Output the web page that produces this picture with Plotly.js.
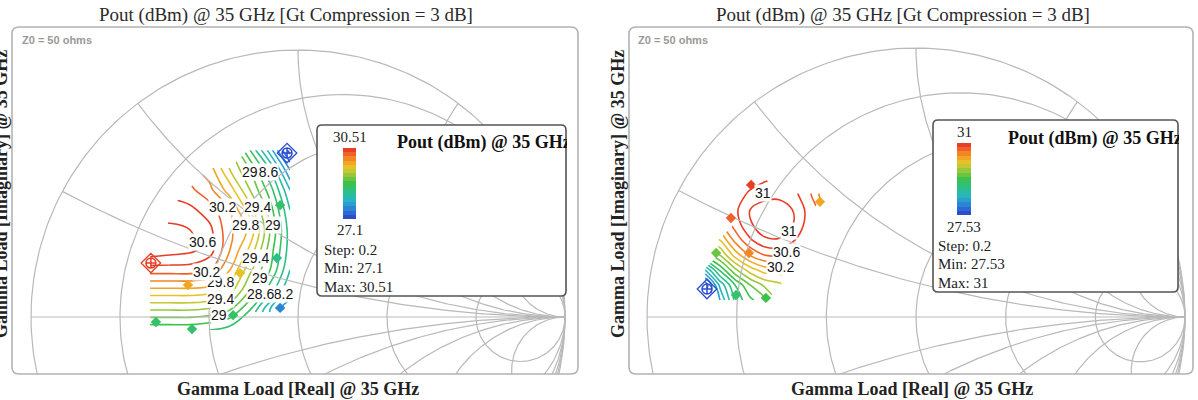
<!DOCTYPE html>
<html>
<head>
<meta charset="utf-8">
<script src="https://cdn.plot.ly/plotly-3.0.1.min.js"></script>
<style>html,body{margin:0;padding:0;background:#fff}#chart{width:1198px;height:400px}</style>
</head>
<body>
<div id="chart"></div>
<script>
// ================= DATA =================
// Smith chart grid values
const smithR = [0.2, 0.5, 1, 2, 5];
const smithX = [0.25, 0.5, 1, 2, 5];

// ---- Left chart: load-pull Pout (dBm) on Gamma grid ----
const leftGammaRe = [-0.554, -0.479, -0.404, -0.330, -0.255, -0.180, -0.105, -0.030];
const leftGammaIm = [0.625, 0.551, 0.476, 0.401, 0.326, 0.251, 0.176, 0.101, 0.026, -0.049];
const leftPout = [
  [null, null, null, null, null, 28.6, 27.9, 27.1],
  [null, null, null, 29.9, 29.4, 29.0, 28.4, 27.6],
  [null, null, 30.25, 30.05, 29.7, 29.2, 28.7, 28.0],
  [null, 30.5, 30.45, 30.3, 30.0, 29.5, 28.9, 28.2],
  [null, 30.65, 30.6, 30.45, 30.05, 29.75, 29.0, 28.3],
  [30.75, 30.7, 30.65, 30.5, 30.0, 29.55, 28.9, 28.3],
  [30.3, 30.3, 30.3, 30.2, 29.8, 29.25, 28.8, 28.2],
  [29.75, 29.75, 29.75, 29.7, 29.5, 29.0, 28.5, 28.0],
  [29.2, 29.2, 29.2, 29.15, 29.0, 28.6, 28.0, 27.6],
  [28.65, 28.65, 28.65, 28.6, 28.5, null, null, null]
];
const leftMin = 27.1, leftMax = 30.51, leftStep = 0.2;
const leftLevelStart = 27.2, leftLevelEnd = 30.6;
// measured points (diamonds)
const leftPtRe  = [-0.412, -0.217, -0.067, -0.079, -0.243, -0.532, -0.397, -0.067];
const leftPtIm  = [0.120, 0.165, 0.419, 0.221, 0.007, -0.019, -0.045, 0.034];
const leftPtVal = [29.9, 29.6, 28.6, 28.5, 28.6, 28.6, 28.7, 27.7];
// max / min markers
const leftExtRe  = [-0.551, -0.041];
const leftExtIm  = [0.202, 0.614];
const leftExtVal = [30.51, 27.1];
// contour labels
const leftLabelVal = [28.6, 29, 30.2, 29.4, 29.8, 29, 30.6, 29.4, 29.8, 30.2, 29, 28.2, 28.6, 29, 29.4];
const leftLabelRe  = [-0.124, -0.180, -0.281, -0.150, -0.195, -0.094, -0.356, -0.161, -0.292, -0.341, -0.142, -0.071, -0.142, -0.296, -0.292];
const leftLabelIm  = [0.543, 0.543, 0.412, 0.412, 0.345, 0.345, 0.281, 0.221, 0.131, 0.169, 0.146, 0.086, 0.086, 0.007, 0.067];

// ---- Right chart ----
const rightGammaRe = [-0.784, -0.729, -0.673, -0.617, -0.561, -0.506, -0.450, -0.394, -0.338];
const rightGammaIm = [0.509, 0.454, 0.398, 0.342, 0.286, 0.230, 0.175, 0.119, 0.063];
const rightPout = [
  [null, null, null, 30.70, 30.78, null, null, null, null],
  [null, null, 30.68, 30.85, 30.95, 30.95, 30.85, 30.63, 30.24],
  [null, null, 30.75, 31.00, 31.08, 31.10, 30.98, 30.70, null],
  [null, null, 30.68, 30.97, 31.12, 31.12, 30.98, 30.66, null],
  [null, 30.00, 30.46, 30.77, 30.97, 30.98, 30.80, null, null],
  [null, 29.60, 30.08, 30.42, 30.60, 30.62, 30.46, null, null],
  [28.39, 29.04, 29.55, 29.90, 30.10, 30.12, null, null, null],
  [27.66, 28.45, 29.00, 29.40, 29.65, 29.75, null, null, null],
  [null, 28.20, 28.85, 29.15, 29.35, null, null, null, null]
];
const rightMin = 27.53, rightMax = 31, rightStep = 0.2;
const rightLevelStart = 27.6, rightLevelEnd = 31.0;
const rightPtRe  = [-0.669, -0.558, -0.743, -0.688, -0.621, -0.357, -0.613];
const rightPtIm  = [0.082, 0.071, 0.238, 0.368, 0.238, 0.428, 0.491];
const rightPtVal = [29.0, 29.2, 29.5, 30.6, 30.5, 30.3, 30.8];
const rightExtRe  = [-0.777];
const rightExtIm  = [0.104];
const rightExtVal = [27.53];
const rightLabelVal = [31, 30.2, 30.6, 31];
const rightLabelRe  = [-0.569, -0.502, -0.480, -0.472];
const rightLabelIm  = [0.461, 0.186, 0.242, 0.320];

// ================= HELPERS =================
const W = 1198, H = 400;
const PX = p => p / W;
const PY = p => 1 - p / H;

const baseStops = [[0,'#2b3fc8'],[0.12,'#2e78d8'],[0.25,'#26b4c8'],[0.38,'#2cc08a'],[0.5,'#3cc24a'],
                   [0.62,'#9ac83a'],[0.72,'#e6c828'],[0.82,'#f39a22'],[0.91,'#f0622a'],[1,'#e42c24']];
function hexToRgb(h){return [parseInt(h.slice(1,3),16),parseInt(h.slice(3,5),16),parseInt(h.slice(5,7),16)];}
function baseColor(t){
  t = Math.max(0, Math.min(1, t));
  for (let i = 1; i < baseStops.length; i++) {
    if (t <= baseStops[i][0]) {
      const t0 = baseStops[i-1][0], t1 = baseStops[i][0];
      const a = hexToRgb(baseStops[i-1][1]), b = hexToRgb(baseStops[i][1]);
      const f = (t - t0) / (t1 - t0);
      return 'rgb(' + a.map((v,k)=>Math.round(v + (b[k]-v)*f)).join(',') + ')';
    }
  }
  return baseStops[baseStops.length-1][1];
}
function stepped(min, max, step){
  const n = Math.max(1, Math.round((max-min)/step));
  const cs = [];
  for (let i = 0; i < n; i++) { const c = baseColor((i+0.5)/n); cs.push([i/n, c]); cs.push([(i+1)/n, c]); }
  return cs;
}
function bandColor(v, min, max, step){
  const n = Math.max(1, Math.round((max-min)/step));
  let i = Math.floor((v-min)/(max-min)*n); i = Math.max(0, Math.min(n-1, i));
  return baseColor((i+0.5)/n);
}
function smithGrid(){
  const xs = [], ys = [];
  const add = pts => { pts.forEach(p => { xs.push(p[0]); ys.push(p[1]); }); xs.push(null); ys.push(null); };
  const N = 260;
  let pts = [];
  for (let i = 0; i <= N; i++) { const a = 2*Math.PI*i/N; pts.push([Math.cos(a), Math.sin(a)]); }
  add(pts);
  add([[-1,0],[1,0]]);
  smithR.forEach(r => {
    const c = r/(1+r), rad = 1/(1+r), p = [];
    for (let i = 0; i <= N; i++) { const a = 2*Math.PI*i/N; p.push([c + rad*Math.cos(a), rad*Math.sin(a)]); }
    add(p);
  });
  smithX.forEach(x => {
    [1,-1].forEach(s => {
      const rad = 1/x, ix = (x*x-1)/(x*x+1), iy = 2*x/(x*x+1);
      let a1 = Math.atan2(iy - rad, ix - 1);
      if (a1 > -Math.PI/2) a1 -= 2*Math.PI;
      const p = [];
      for (let i = 0; i <= N; i++) { const a = -Math.PI/2 + (a1 + Math.PI/2)*i/N; p.push([1 + rad*Math.cos(a), s*(rad + rad*Math.sin(a))]); }
      add(p);
    });
  });
  return {xs, ys};
}
function rr(x0,y0,x1,y1,r){
  const X = p => (p/W).toFixed(5), Y = p => (1-p/H).toFixed(5);
  return `M${X(x0+r)},${Y(y0)} L${X(x1-r)},${Y(y0)} Q${X(x1)},${Y(y0)} ${X(x1)},${Y(y0+r)} L${X(x1)},${Y(y1-r)} Q${X(x1)},${Y(y1)} ${X(x1-r)},${Y(y1)} L${X(x0+r)},${Y(y1)} Q${X(x0)},${Y(y1)} ${X(x0)},${Y(y1-r)} L${X(x0)},${Y(y0+r)} Q${X(x0)},${Y(y0)} ${X(x0+r)},${Y(y0)} Z`;
}

// ================= LAYOUT GEOMETRY =================
const serif = 'Liberation Serif, Times New Roman, serif';
const sans = 'Liberation Sans, Arial, sans-serif';
const charts = [
  { ax:'x', ay:'y', frame:[12,27,578,374], cx:298, cy:317, R:267,
    re:leftGammaRe, im:leftGammaIm, z:leftPout, min:leftMin, max:leftMax, step:leftStep,
    ls:leftLevelStart, le:leftLevelEnd, ptRe:leftPtRe, ptIm:leftPtIm, ptVal:leftPtVal,
    exRe:leftExtRe, exIm:leftExtIm, exVal:leftExtVal, lbV:leftLabelVal, lbRe:leftLabelRe, lbIm:leftLabelIm,
    box:[317,125,566,296], cbar:[343,148,356,219], cbTop:137, cbBot:230, txtX:322, txtY:[250,268,287], legTitle:[395,143],
    title:[286,15], xt:[298,389], yt:[1,194], z0:[20,40] },
  { ax:'x2', ay:'y2', frame:[629,27,1193,374], cx:916, cy:317, R:269,
    re:rightGammaRe, im:rightGammaIm, z:rightPout, min:rightMin, max:rightMax, step:rightStep,
    ls:rightLevelStart, le:rightLevelEnd, ptRe:rightPtRe, ptIm:rightPtIm, ptVal:rightPtVal,
    exRe:rightExtRe, exIm:rightExtIm, exVal:rightExtVal, lbV:rightLabelVal, lbRe:rightLabelRe, lbIm:rightLabelIm,
    box:[933,120,1178,292], cbar:[957,143,971,215], cbTop:132, cbBot:227, txtX:936, txtY:[246,264,283], legTitle:[1006,138],
    title:[903,15], xt:[912,389], yt:[618,194], z0:[636,40] }
];

const data = [], shapes = [], annotations = [];
const layout = { width:W, height:H, margin:{l:0,r:0,t:0,b:0}, paper_bgcolor:'#fff', plot_bgcolor:'#fff',
  showlegend:false, hovermode:false };

const grid = smithGrid();
charts.forEach((c, k) => {
  const [fx0, fy0, fx1, fy1] = c.frame;
  const xa = k === 0 ? 'xaxis' : 'xaxis2', ya = k === 0 ? 'yaxis' : 'yaxis2';
  layout[xa] = { domain:[PX(fx0), PX(fx1)], range:[(fx0-c.cx)/c.R, (fx1-c.cx)/c.R], visible:false, anchor:c.ay, fixedrange:true };
  layout[ya] = { domain:[PY(fy1), PY(fy0)], range:[(c.cy-fy1)/c.R, (c.cy-fy0)/c.R], visible:false, anchor:c.ax, fixedrange:true };
  const scale = stepped(c.min, c.max, c.step);

  data.push({ type:'scatter', mode:'lines', x:grid.xs, y:grid.ys, xaxis:c.ax, yaxis:c.ay,
    line:{color:'#b9b9b9', width:1.2}, hoverinfo:'skip' });

  const imAsc = c.im.slice().reverse();
  const zAsc = c.z.slice().reverse();
  data.push({ type:'contour', x:c.re, y:imAsc, z:zAsc, xaxis:c.ax, yaxis:c.ay,
    zauto:false, zmin:c.min, zmax:c.max, colorscale:scale, showscale:false, connectgaps:false,
    contours:{coloring:'lines', start:c.ls, end:c.le, size:c.step, showlabels:false},
    line:{width:1.6, smoothing:1}, hoverinfo:'skip' });

  const [bx0, by0, bx1, by1] = c.cbar;
  data.push({ type:'scatter', mode:'markers', x:c.ptRe, y:c.ptIm, xaxis:c.ax, yaxis:c.ay,
    marker:{ symbol:'diamond', size:8, color:c.ptVal, colorscale:scale, cmin:c.min, cmax:c.max, line:{width:0},
      showscale:true,
      colorbar:{ x:PX(bx0), xanchor:'left', y:PY(by0), yanchor:'top', len:by1-by0, lenmode:'pixels',
        thickness:bx1-bx0, thicknessmode:'pixels', outlinewidth:0, xpad:0, ypad:0, borderwidth:0,
        showticklabels:false, ticks:'' } },
    hoverinfo:'skip' });

  const exColors = c.exVal.map(v => bandColor(v, c.min, c.max, c.step));
  data.push({ type:'scatter', mode:'markers', x:c.exRe, y:c.exIm, xaxis:c.ax, yaxis:c.ay,
    marker:{ symbol:'diamond-open', size:15, color:exColors, line:{width:1.3, color:exColors} }, hoverinfo:'skip' });
  data.push({ type:'scatter', mode:'markers', x:c.exRe, y:c.exIm, xaxis:c.ax, yaxis:c.ay,
    marker:{ symbol:'circle-cross-open', size:10, color:exColors, line:{width:1.5, color:exColors} }, hoverinfo:'skip' });

  // frame
  shapes.push({ type:'path', xref:'paper', yref:'paper', layer:'above', path:rr(fx0,fy0,fx1,fy1,7),
    line:{color:'#b3b3b3', width:1.6}, fillcolor:'rgba(0,0,0,0)' });
  // legend box
  const [lx0, ly0, lx1, ly1] = c.box;
  shapes.push({ type:'path', xref:'paper', yref:'paper', layer:'above', path:rr(lx0,ly0,lx1,ly1,5),
    line:{color:'#555', width:1.6}, fillcolor:'#fff' });

  // contour labels
  c.lbV.forEach((v, i) => annotations.push({ xref:c.ax, yref:c.ay, x:c.lbRe[i], y:c.lbIm[i], text:String(v),
    showarrow:false, font:{family:sans, size:14, color:'#151515'}, bgcolor:'#fff', borderpad:0,
    xanchor:'center', yanchor:'middle' }));

  const pa = (x, y, text, font, xanchor, extra) => annotations.push(Object.assign({ xref:'paper', yref:'paper',
    x:PX(x), y:PY(y), text, font, showarrow:false, xanchor:xanchor||'center', yanchor:'middle' }, extra||{}));
  const pout = 'Pout (dBm) @ 35 GHz';
  pa(c.title[0], c.title[1], pout + ' [Gt Compression = 3 dB]', {family:serif, size:19, color:'#2a2a2a'});
  pa(c.xt[0], c.xt[1], '<b>Gamma Load [Real] @ 35 GHz</b>', {family:serif, size:18, color:'#222'});
  pa(c.yt[0], c.yt[1], '<b>Gamma Load [Imaginary] @ 35 GHz</b>', {family:serif, size:18, color:'#222'}, 'center', {textangle:-90});
  pa(c.z0[0], c.z0[1], '<b>Z0 = 50 ohms</b>', {family:sans, size:11, color:'#999'}, 'left');
  const cbc = (bx0 + bx1) / 2;
  pa(cbc, c.cbTop, String(c.max), {family:serif, size:15, color:'#222'});
  pa(cbc, c.cbBot, String(c.min), {family:serif, size:15, color:'#222'});
  pa(c.txtX, c.txtY[0], 'Step: ' + c.step, {family:serif, size:15, color:'#222'}, 'left');
  pa(c.txtX, c.txtY[1], 'Min: ' + c.min, {family:serif, size:15, color:'#222'}, 'left');
  pa(c.txtX, c.txtY[2], 'Max: ' + c.max, {family:serif, size:15, color:'#222'}, 'left');
  pa(c.legTitle[0], c.legTitle[1], '<b>' + pout + '</b>', {family:serif, size:18, color:'#111'}, 'left',
    { width: lx1 - c.legTitle[0] - 1, align:'left' });
});
layout.shapes = shapes;
layout.annotations = annotations;

Plotly.newPlot('chart', data, layout, {staticPlot:true, displayModeBar:false});
</script>
</body>
</html>
